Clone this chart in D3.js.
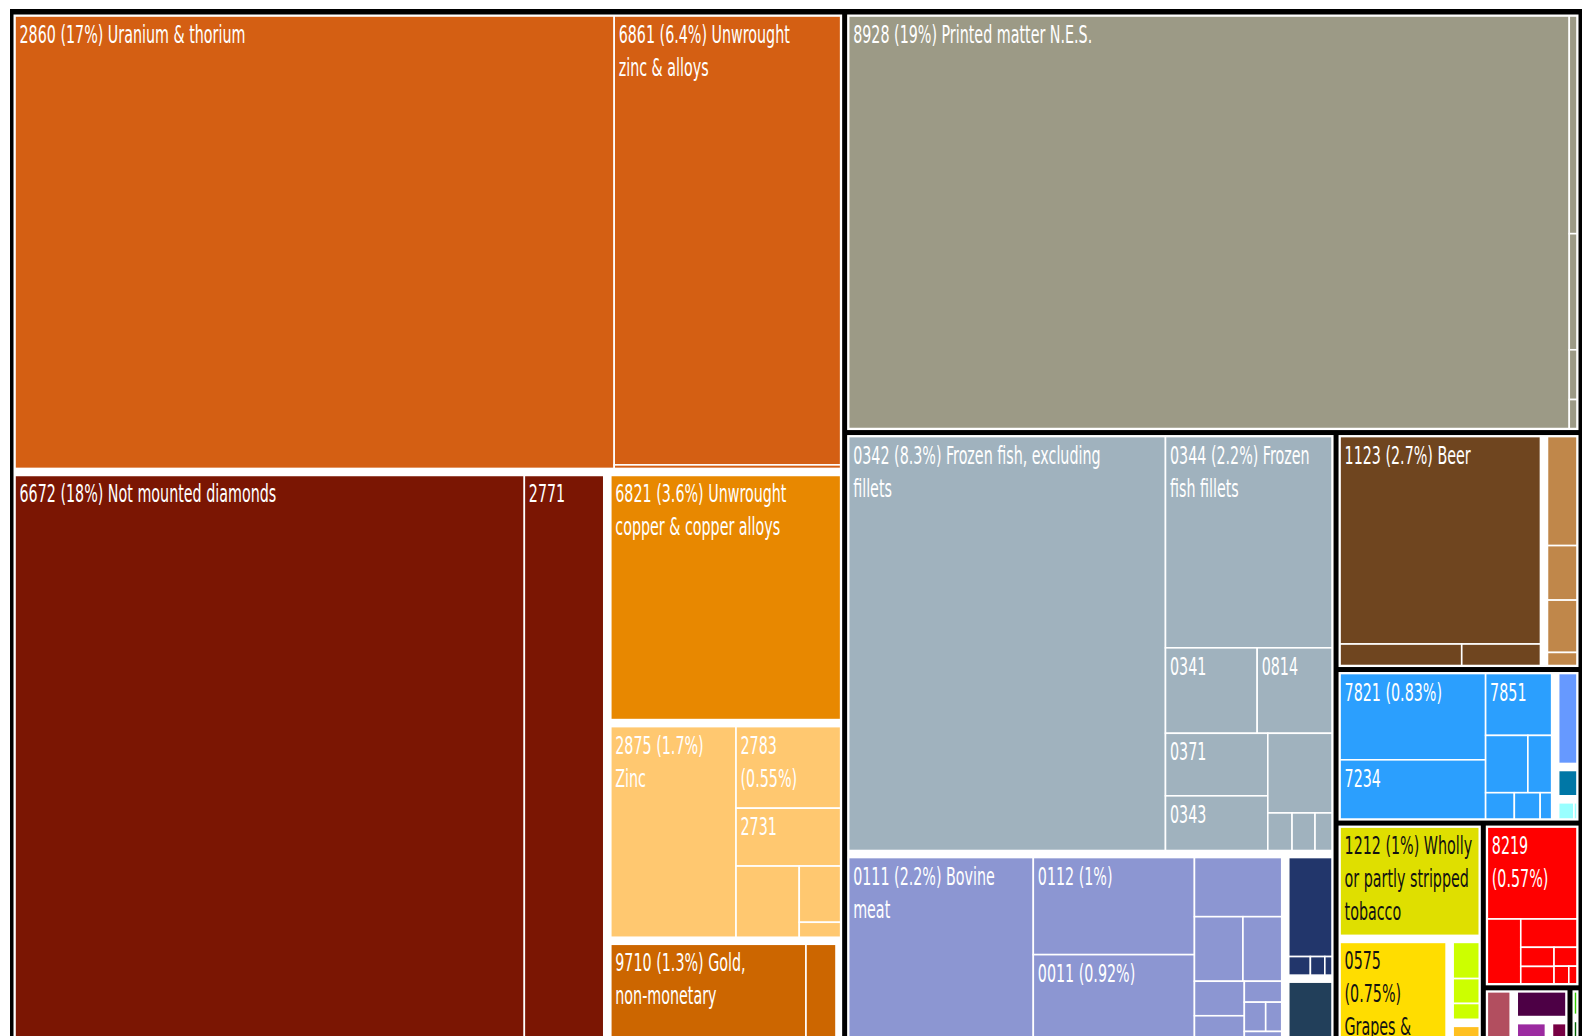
<!DOCTYPE html>
<html>
<head>
<meta charset="utf-8">
<script src="https://cdn.jsdelivr.net/npm/d3@7"></script>
<style>
  html, body { margin: 0; padding: 0; background: #fff; overflow: hidden; }
  svg { display: block; }
  .label { font-family: "Liberation Sans Narrow", "DejaVu Sans Condensed", sans-serif; font-size: 25px; }
</style>
</head>
<body>
<svg id="chart" width="1592" height="1036"></svg>
<script>
// colour groups, the black-framed section each belongs to, and its fill
var groupNames    = ["ores", "stones", "copper", "zincOres", "gold", "redMetal",
                     "printed",
                     "fish", "meat", "navy", "slate",
                     "beer", "malt",
                     "machines", "periwinkle", "cyan", "petrol",
                     "tobacco", "grapes", "lime", "amber",
                     "furniture",
                     "rose", "plum", "wine", "purple",
                     "green", "darkGreen"];
var groupSections = ["minerals", "minerals", "minerals", "minerals", "minerals", "minerals",
                     "paper",
                     "food", "food", "food", "food",
                     "drinks", "drinks",
                     "machinery", "machinery", "machinery", "machinery",
                     "vegetable", "vegetable", "vegetable", "vegetable",
                     "misc",
                     "textiles", "textiles", "textiles", "textiles",
                     "plants", "plants"];
var groupColours  = ["#d45f13", "#7b1603", "#e88800", "#ffc870", "#cc6600", "#cc0000",
                     "#9c9a86",
                     "#a0b2be", "#8c96d2", "#22366b", "#223f5a",
                     "#6f451f", "#c0874a",
                     "#2b9ffe", "#6699ff", "#99ffff", "#0077a6",
                     "#dfdf00", "#ffdd00", "#ccff00", "#ffc020",
                     "#ff0000",
                     "#b24e5f", "#4d0045", "#770044", "#9b2aa0",
                     "#33cc00", "#006600"];

// products: colour group, share of exports (%), label as printed ("\n" = line break)
var leafGroups = [
  "ores", "ores", "ores",
  "stones", "stones",
  "copper",
  "zincOres", "zincOres", "zincOres", "zincOres", "zincOres", "zincOres",
  "gold", "gold",
  "redMetal",
  "printed", "printed", "printed", "printed", "printed",
  "fish", "fish", "fish", "fish", "fish", "fish", "fish", "fish", "fish", "fish",
  "meat", "meat", "meat", "meat", "meat", "meat", "meat", "meat", "meat", "meat", "meat", "meat",
  "navy", "navy", "navy", "navy",
  "slate",
  "beer", "beer", "beer",
  "malt", "malt", "malt", "malt",
  "machines", "machines", "machines", "machines", "machines", "machines", "machines", "machines",
  "periwinkle",
  "cyan", "cyan",
  "petrol",
  "tobacco",
  "grapes",
  "lime", "lime", "lime",
  "amber",
  "furniture", "furniture", "furniture", "furniture", "furniture", "furniture", "furniture", "furniture",
  "rose", "plum", "wine", "purple",
  "green", "darkGreen"
];
var leafShares = [
  16.8, 6.3, 0.05,
  17.95, 2.8,
  3.6,
  1.7, 0.55, 0.39, 0.29, 0.15, 0.04,
  1.3, 0.2,
  0.03,
  18.5, 0.105, 0.056, 0.024, 0.014,
  8.2, 2.2, 0.49, 0.4, 0.4, 0.35, 0.32, 0.057, 0.054, 0.04,
  2.2, 1.0, 0.92, 0.33, 0.2, 0.16, 0.11, 0.09, 0.05, 0.04, 0.03, 0.03,
  0.32, 0.03, 0.02, 0.01,
  0.21,
  2.7, 0.17, 0.11,
  0.25, 0.125, 0.12, 0.03,
  0.83, 0.57, 0.27, 0.16, 0.09, 0.05, 0.045, 0.02,
  0.15,
  0.03, 0.006,
  0.05,
  1.03,
  0.75,
  0.08, 0.055, 0.035,
  0.05,
  0.57, 0.15, 0.11, 0.044, 0.04, 0.03, 0.018, 0.01,
  0.11, 0.11, 0.035, 0.06,
  0.02, 0.02
];
var leafLabels = [
  "2860 (17%) Uranium & thorium", "6861 (6.4%) Unwrought\nzinc & alloys", "",
  "6672 (18%) Not mounted diamonds", "2771",
  "6821 (3.6%) Unwrought\ncopper & copper alloys",
  "2875 (1.7%)\nZinc", "2783\n(0.55%)", "2731", "", "", "",
  "9710 (1.3%) Gold,\nnon-monetary", "",
  "",
  "8928 (19%) Printed matter N.E.S.", "", "", "", "",
  "0342 (8.3%) Frozen fish, excluding\nfillets", "0344 (2.2%) Frozen\nfish fillets",
  "0341", "0814", "0371", "0343", "", "", "", "",
  "0111 (2.2%) Bovine\nmeat", "0112 (1%)", "0011 (0.92%)", "", "", "", "", "", "", "", "", "",
  "", "", "", "",
  "",
  "1123 (2.7%) Beer", "", "",
  "", "", "", "",
  "7821 (0.83%)", "7234", "7851", "", "", "", "", "",
  "",
  "", "",
  "",
  "1212 (1%) Wholly\nor partly stripped\ntobacco",
  "0575\n(0.75%)\nGrapes &\nraisins",
  "", "", "",
  "",
  "8219\n(0.57%)", "", "", "", "", "", "", "",
  "", "", "", "",
  "", ""
];

var svg = d3.select("#chart");
var width = 1572, height = 1040, offsetX = 10, offsetY = 9;

var sectionOf = new Map(groupNames.map(function (g, i) { return [g, groupSections[i]]; }));
var colour = d3.scaleOrdinal().domain(groupNames).range(groupColours);

var records = leafShares.map(function (v, i) {
  return { share: v, label: leafLabels[i], group: leafGroups[i] };
});

var root = d3.hierarchy(d3.group(records,
    function (r) { return sectionOf.get(r.group); },
    function (r) { return r.group; }))
  .sum(function (d) { return d.share; })
  .sort(function (a, b) { return b.value - a.value; });

// plain squarify almost everywhere; the vehicles block packs a bit looser
var squareTile = d3.treemapSquarify.ratio(1);
function tile(node, x0, y0, x1, y1) {
  var t = (node.depth === 2 && node.data[0] === "machines") ? d3.treemapSquarify : squareTile;
  t(node, x0, y0, x1, y1);
}

d3.treemap()
  .tile(tile)
  .size([width, height])
  .paddingOuter(function (d) { return d.depth === 0 ? 3.5 : d.depth === 1 ? 1.5 : 0; })
  .paddingTop(function (d) { return d.depth === 0 ? 5.5 : d.depth === 1 ? 1.5 : 0; })
  .paddingInner(function (d) { return d.depth === 0 ? 5 : d.depth === 1 ? 7 : 0; })
  (root);

var chart = svg.append("g").attr("transform", "translate(" + offsetX + "," + offsetY + ")");

chart.append("rect")
  .attr("width", width).attr("height", height)
  .attr("fill", "#000");

chart.selectAll("rect.section").data(root.children).enter()
  .append("rect").attr("class", "section")
  .attr("x", function (d) { return d.x0; }).attr("y", function (d) { return d.y0; })
  .attr("width", function (d) { return d.x1 - d.x0; })
  .attr("height", function (d) { return d.y1 - d.y0; })
  .attr("fill", "#fff");

var leaves = chart.selectAll("g.leaf").data(root.leaves()).enter()
  .append("g").attr("class", "leaf");

leaves.append("clipPath")
  .attr("id", function (d, i) { return "clip" + i; })
  .append("rect")
  .attr("x", function (d) { return d.x0; }).attr("y", function (d) { return d.y0; })
  .attr("width", function (d) { return d.x1 - d.x0; })
  .attr("height", function (d) { return d.y1 - d.y0; });

leaves.append("rect")
  .attr("x", function (d) { return d.x0; }).attr("y", function (d) { return d.y0; })
  .attr("width", function (d) { return d.x1 - d.x0; })
  .attr("height", function (d) { return d.y1 - d.y0; })
  .attr("fill", function (d) { return colour(d.data.group); })
  .attr("stroke", "#fff")
  .attr("stroke-width", 1.6);

// squeeze the text so it matches the tall, narrow lettering of the original
var probe = svg.append("text").attr("class", "label").text("2860 (17%) Uranium & thorium");
var squeeze = 226 / probe.node().getComputedTextLength();
probe.remove();

function textColour(d) {
  var c = d3.hsl(colour(d.data.group));
  return (c.s > 0.6 && c.l > 0.42 && c.h > 40 && c.h < 75) ? "#111" : "#fff";
}

leaves.filter(function (d) { return d.data.label; }).each(function (d) {
  var g = d3.select(this).append("g")
    .attr("clip-path", "url(#" + d3.select(this).select("clipPath").attr("id") + ")");
  d.data.label.split("\n").forEach(function (l, k) {
    g.append("text").attr("class", "label")
      .attr("transform", "translate(" + (d.x0 + 4.5) + "," + (d.y0 + 27 + k * 33) + ") scale(" + squeeze + ",1)")
      .attr("fill", textColour(d))
      .text(l);
  });
});
</script>
</body>
</html>
